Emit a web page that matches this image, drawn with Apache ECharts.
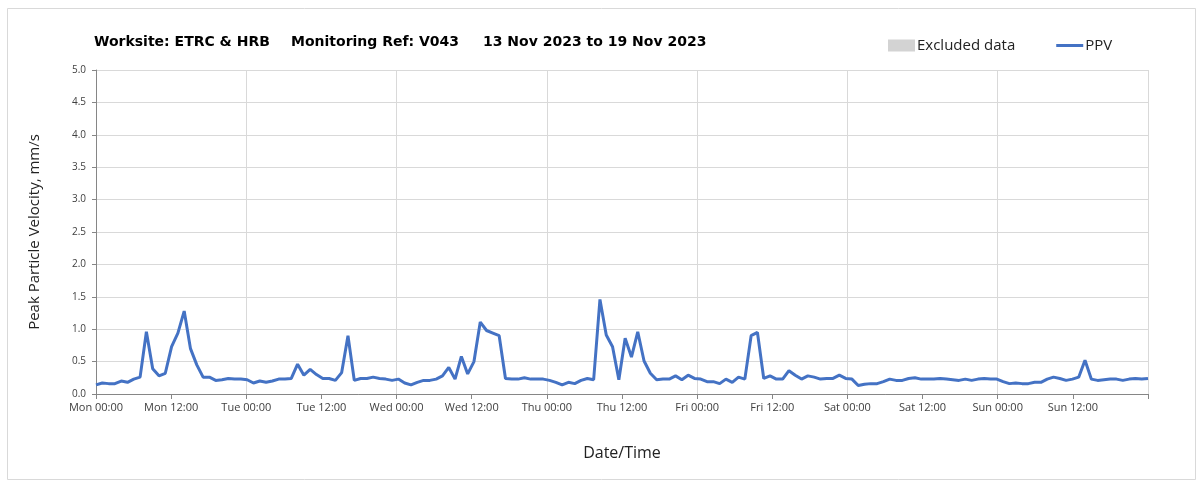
<!DOCTYPE html>
<html><head><meta charset="utf-8">
<script src="https://cdn.jsdelivr.net/npm/echarts@6/dist/echarts.min.js"></script>
<style>html,body{margin:0;padding:0;background:#fff}#c{width:1203px;height:482px}</style>
</head><body><div id="c"></div>
<script>
// Hourly PPV readings (mm/s), Mon 13 Nov 2023 00:00 -> Sun 19 Nov 2023
const mon = [0.14,0.17,0.16,0.16,0.20,0.18,0.23,0.26,0.96,0.39,0.28,0.32,0.73,0.94,1.28,0.70,0.45,0.26,0.26,0.21,0.22,0.24,0.23,0.23];
const tue = [0.22,0.17,0.20,0.18,0.20,0.23,0.23,0.24,0.46,0.29,0.38,0.30,0.24,0.24,0.21,0.33,0.90,0.21,0.24,0.24,0.26,0.24,0.23,0.21];
const wed = [0.23,0.17,0.14,0.18,0.21,0.21,0.23,0.28,0.41,0.23,0.58,0.31,0.50,1.11,0.98,0.94,0.90,0.24,0.23,0.23,0.25,0.23,0.23,0.23];
const thu = [0.21,0.18,0.14,0.18,0.16,0.21,0.24,0.22,1.46,0.91,0.73,0.22,0.86,0.57,0.96,0.51,0.32,0.22,0.23,0.23,0.28,0.22,0.29,0.24];
const fri = [0.23,0.19,0.19,0.16,0.23,0.18,0.26,0.23,0.90,0.95,0.24,0.28,0.23,0.23,0.36,0.29,0.23,0.28,0.26,0.23,0.24,0.24,0.29,0.24];
const sat = [0.23,0.13,0.15,0.16,0.16,0.19,0.23,0.21,0.21,0.24,0.25,0.23,0.23,0.23,0.24,0.23,0.22,0.21,0.23,0.21,0.23,0.24,0.23,0.23];
const sun = [0.19,0.16,0.17,0.16,0.16,0.18,0.18,0.23,0.26,0.24,0.21,0.23,0.26,0.52,0.23,0.21,0.22,0.23,0.23,0.21,0.23,0.24,0.23,0.24];
const xTickLabels = ['Mon 00:00','Mon 12:00','Tue 00:00','Tue 12:00','Wed 00:00','Wed 12:00','Thu 00:00','Thu 12:00','Fri 00:00','Fri 12:00','Sat 00:00','Sat 12:00','Sun 00:00','Sun 12:00',''];
const titleParts = ['Worksite: ETRC & HRB','Monitoring Ref: V043','13 Nov 2023 to 19 Nov 2023'];
const seriesNames = ['Excluded data','PPV'];

const ppv = [].concat(mon,tue,wed,thu,fri,sat,sun);
const spanHours = 168;
const step = spanHours / (ppv.length - 1);
const data = ppv.map((v,i)=>[i*step, v]);

const chart = echarts.init(document.getElementById('c'));
const FONT = '"Open Sans", Lato, sans-serif';
const TFONT = 'bold 14px "DejaVu Sans", "Open Sans", sans-serif';
chart.setOption({
  animation:false,
  backgroundColor:'#fff',
  graphic:[
    {type:'rect',shape:{x:7.5,y:8.5,width:1188,height:471},style:{fill:'none',stroke:'#d9d9d9',lineWidth:1},silent:true},
    {type:'text',left:94,top:35,style:{text:titleParts[0],font:TFONT,fill:'#000'}},
    {type:'text',left:291,top:35,style:{text:titleParts[1],font:TFONT,fill:'#000'}},
    {type:'text',left:483,top:35,style:{text:titleParts[2],font:TFONT,fill:'#000'}}
  ],
  legend:{
    left:883, top:33, itemWidth:27, itemHeight:12, itemGap:41,
    textStyle:{fontFamily:FONT,fontSize:15,color:'#222',padding:[0,0,0,-3]},
    data:[{name:seriesNames[0],icon:'rect'},{name:seriesNames[1],icon:'path://M0,0 L27,0 L27,3 L0,3 Z'}]
  },
  grid:{left:96,right:55,top:70,bottom:88,containLabel:false},
  xAxis:[
    {type:'value',min:0,max:168,interval:12,
     name:'Date/Time',nameLocation:'middle',nameGap:51,
     nameTextStyle:{fontFamily:FONT,fontSize:16,color:'#222'},
     axisLine:{show:true,lineStyle:{color:'#868686',width:1}},
     axisTick:{show:true,length:5,lineStyle:{color:'#868686'}},
     axisLabel:{fontFamily:FONT,fontSize:11,color:'#404040',margin:8,showMaxLabel:true,
       formatter:(v)=>xTickLabels[Math.round(v/12)]||''},
     splitLine:{show:false}},
    {type:'value',min:0,max:168,interval:24,position:'bottom',
     axisLine:{show:false},axisTick:{show:false},axisLabel:{show:false},
     splitLine:{show:true,lineStyle:{color:'#d9d9d9',width:1}}}
  ],
  yAxis:{type:'value',min:0,max:5,interval:0.5,
    name:'Peak Particle Velocity, mm/s',nameLocation:'middle',nameGap:54,
    nameTextStyle:{fontFamily:FONT,fontSize:15,color:'#222'},
    axisLine:{show:true,lineStyle:{color:'#868686',width:1}},
    axisTick:{show:true,length:4,lineStyle:{color:'#868686'}},
    axisLabel:{fontFamily:FONT,fontSize:10,color:'#404040',margin:10,formatter:(v)=>v.toFixed(1)},
    splitLine:{show:true,lineStyle:{color:'#d9d9d9',width:1}}},
  series:[
    {name:seriesNames[0],type:'bar',data:[],itemStyle:{color:'#d3d3d3'}},
    {name:seriesNames[1],type:'line',data:data,symbol:'none',
     lineStyle:{color:'#4472C4',width:3},itemStyle:{color:'#4472C4'}}
  ]
});
</script></body></html>
